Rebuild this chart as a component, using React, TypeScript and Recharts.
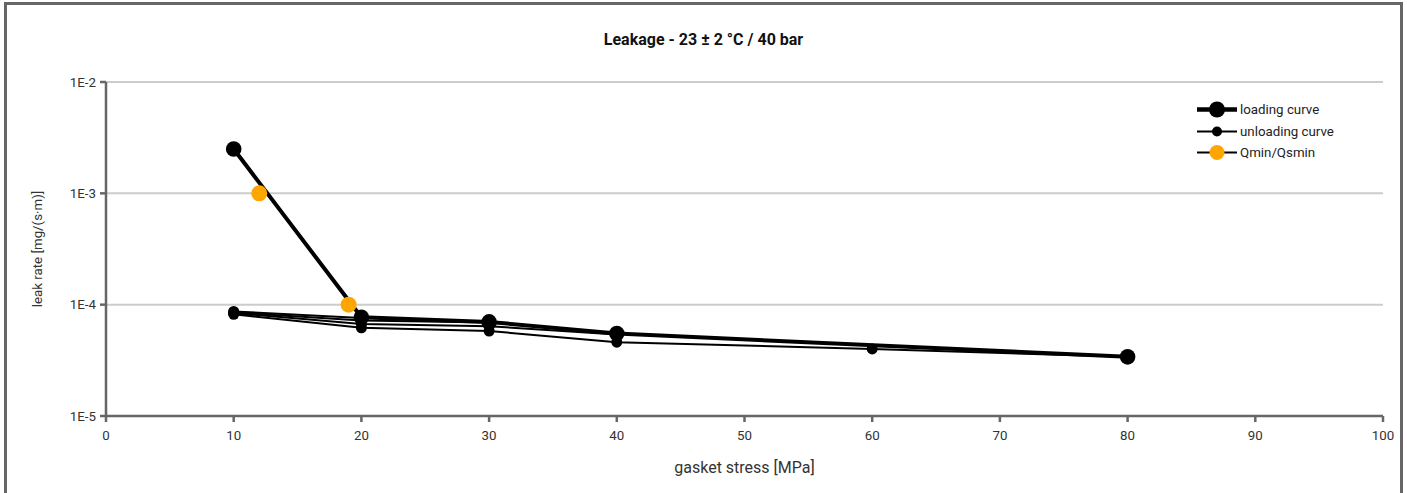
import React from "react";
import {
  CartesianGrid,
  Label,
  Legend,
  Line,
  LineChart,
  XAxis,
  YAxis,
} from "recharts";

// gasket stress [MPa] / leak rate [mg/(s·m)]
const loadingStress = [10, 20, 30, 40, 80];
const loadingLeak = [2.5e-3, 7.7e-5, 7.0e-5, 5.5e-5, 3.4e-5];

// one unloading curve per load step, each runs back down to 10 MPa
const unload20Stress = [20, 10];
const unload20Leak = [7.6e-5, 8.7e-5];
const unload30Stress = [30, 20, 10];
const unload30Leak = [6.9e-5, 7.2e-5, 8.5e-5];
const unload40Stress = [40, 30, 20, 10];
const unload40Leak = [5.4e-5, 6.4e-5, 6.7e-5, 8.4e-5];
const unload80Stress = [80, 60, 40, 30, 20, 10];
const unload80Leak = [3.4e-5, 4.0e-5, 4.6e-5, 5.8e-5, 6.2e-5, 8.2e-5];

const qminStress = [12, 19];
const qminLeak = [1e-3, 1e-4];

const xTicks = [0, 10, 20, 30, 40, 50, 60, 70, 80, 90, 100];
const yTicks = [1e-5, 1e-4, 1e-3, 1e-2];

const TITLE = "Leakage - 23 ± 2 °C / 40 bar";
const ORANGE = "#FFA500";
const AXIS = "#666666";
const TEXT = "#333333";

const toPoints = (xs: number[], ys: number[]) =>
  xs.map((x, i) => ({ x, y: ys[i] }));

const unloadingCurves = [
  toPoints(unload20Stress, unload20Leak),
  toPoints(unload30Stress, unload30Leak),
  toPoints(unload40Stress, unload40Leak),
  toPoints(unload80Stress, unload80Leak),
];

const legendRows = [
  { name: "loading curve", line: 4.5, r: 8, fill: "#000" },
  { name: "unloading curve", line: 2.2, r: 5, fill: "#000" },
  { name: "Qmin/Qsmin", line: 2.2, r: 7.5, fill: ORANGE },
];

// hand-drawn legend so the plot area keeps its full width
function LegendBox() {
  return (
    <div>
      {legendRows.map((row) => (
        <div
          key={row.name}
          style={{ display: "flex", alignItems: "center", height: 21.5 }}
        >
          <svg width={40} height={21}>
            <line x1={0} x2={40} y1={10.5} y2={10.5} stroke="#000" strokeWidth={row.line} />
            <circle cx={20} cy={10.5} r={row.r} fill={row.fill} />
          </svg>
          <span style={{ marginLeft: 3, fontSize: 13.3, color: "#222", whiteSpace: "nowrap" }}>
            {row.name}
          </span>
        </div>
      ))}
    </div>
  );
}

export default function App() {
  return (
    <div
      style={{
        position: "absolute",
        left: 4,
        top: 2,
        width: 1393,
        height: 488,
        borderTop: `3px solid ${AXIS}`,
        borderLeft: `3px solid ${AXIS}`,
        borderRight: `3px solid ${AXIS}`,
        fontFamily: "Roboto, sans-serif",
        background: "#fff",
      }}
    >
      <div
        style={{
          position: "absolute",
          top: 26,
          width: "100%",
          textAlign: "center",
          fontSize: 16,
          lineHeight: "18px",
          fontWeight: 700,
          color: "#111",
        }}
      >
        {TITLE}
      </div>
      <LineChart
        width={1393}
        height={488}
        margin={{ top: 77, right: 17, bottom: 47, left: 39 }}
      >
        <CartesianGrid stroke="#cccccc" strokeWidth={2} vertical={false} />
        <XAxis
          dataKey="x"
          type="number"
          domain={[0, 100]}
          ticks={xTicks}
          height={30}
          stroke={AXIS}
          strokeWidth={2.5}
          tickSize={6}
          tickMargin={9}
          tick={{ fill: TEXT, fontSize: 13.3 }}
          allowDuplicatedCategory={false}
        >
          <Label
            value="gasket stress [MPa]"
            position="bottom"
            offset={16}
            style={{ fill: TEXT, fontSize: 16 }}
          />
        </XAxis>
        <YAxis
          dataKey="y"
          type="number"
          scale="log"
          domain={[1e-5, 1e-2]}
          ticks={yTicks}
          allowDataOverflow
          width={60}
          stroke={AXIS}
          strokeWidth={2.5}
          tickSize={6}
          tickMargin={4}
          tick={{ fill: TEXT, fontSize: 13.3 }}
          tickFormatter={(v: number) => `1E${Math.round(Math.log10(v))}`}
        >
          <Label
            value="leak rate [mg/(s·m)]"
            position="insideLeft"
            angle={-90}
            offset={-9}
            style={{ fill: TEXT, fontSize: 13.3, textAnchor: "middle" }}
          />
        </YAxis>
        <Legend
          layout="vertical"
          verticalAlign="middle"
          align="center"
          content={() => <LegendBox />}
          wrapperStyle={{ left: 1190, top: 94, width: 160 }}
        />
        {unloadingCurves.map((pts, i) => (
          <Line
            key={`unload-${i}`}
            data={pts}
            dataKey="y"
            name="unloading curve"
            stroke="#000"
            strokeWidth={2}
            dot={{ r: 5.5, fill: "#000", stroke: "#000", strokeWidth: 0 }}
            isAnimationActive={false}
          />
        ))}
        <Line
          data={toPoints(loadingStress, loadingLeak)}
          dataKey="y"
          name="loading curve"
          stroke="#000"
          strokeWidth={4}
          dot={{ r: 7.8, fill: "#000", stroke: "#000", strokeWidth: 0 }}
          isAnimationActive={false}
        />
        <Line
          data={toPoints(qminStress, qminLeak)}
          dataKey="y"
          name="Qmin/Qsmin"
          stroke="none"
          dot={{ r: 8, fill: ORANGE, stroke: ORANGE, strokeWidth: 0 }}
          isAnimationActive={false}
        />
      </LineChart>
    </div>
  );
}
